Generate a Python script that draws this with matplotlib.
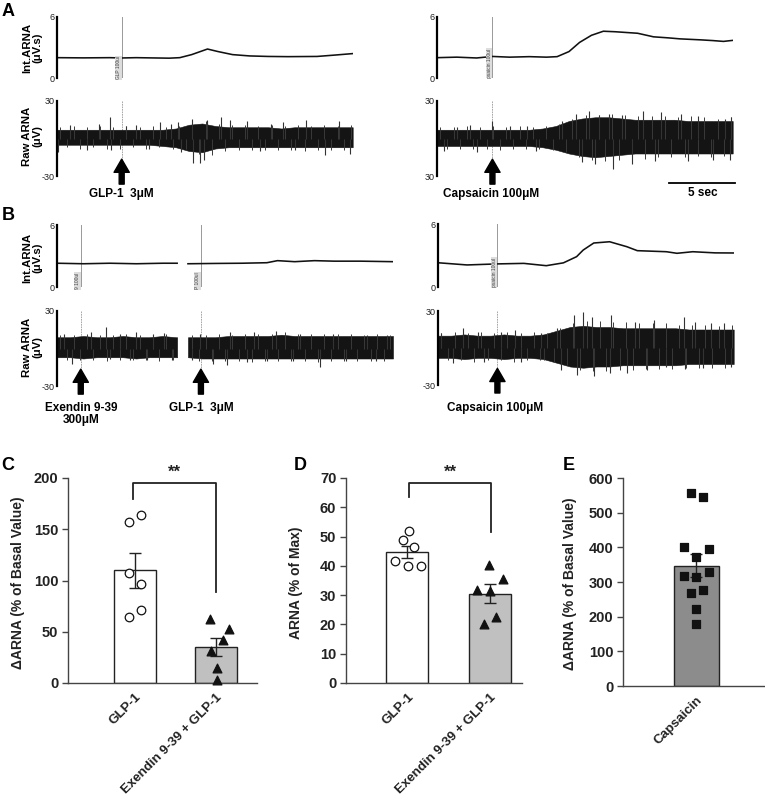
import numpy as np
import matplotlib
matplotlib.use('Agg')
import matplotlib.pyplot as plt

W, H = 765, 797
plt.rcParams['font.family'] = ['Liberation Sans', 'DejaVu Sans']

# ---------------- data ----------------
# panel A left: GLP-1 3uM (time in s)
a1_int_t = [0, 2, 4, 4.9, 6, 7.5, 8.5, 9.3, 10.2, 11.4, 12.2, 13.3, 14.6, 16, 17.5, 19.7, 21, 22.4]
a1_int_v = [2.0, 1.98, 2.0, 1.97, 2.0, 1.97, 1.95, 2.0, 2.3, 2.85, 2.6, 2.3, 2.17, 2.12, 2.1, 2.12, 2.25, 2.4]
a1_raw_t = list(range(23)) + [22.4]
a1_raw_hi = [7, 7, 7, 7, 7, 7, 7, 7, 7, 8, 11, 12, 10, 9, 9, 9, 9, 8, 9, 9, 9, 9, 9, 9]
a1_raw_lo = [-5, -5, -5, -5, -5, -5, -5, -5, -6, -7, -10, -11, -8, -7, -7, -7, -7, -7, -7, -7, -7, -7, -7, -7]
a1_spike_t = [0.1, 1.0, 2.3, 3.2, 4.0, 4.1, 5.2, 6.0, 7.0, 7.8, 8.6, 9.2, 9.4, 10.2, 10.3, 10.8,
              11.1, 11.4, 12.4, 13.1, 14.4, 15.4, 16.2, 17.1, 18.0, 18.9, 20.3, 21.4, 22.2]
a1_spike_v = [-10.5, 11, -9, 12, 17, -9, 10, 11, -8, 13, 12, 13, -11, 16, -19.6, -19.6,
              -17, 15, 17.6, 15, 14, -10, 12, 13, -9, 15, -13, 14, -12]
# small noise tips every 0.5 s (from 0.25 s)
a1_tip_v = [9, -7, 10, -8, 9, -7, 10, -8, 9, -8, 10, -7, 9, -8, 10, -7, 9, -8, 10, -8, 13, -12,
            14, -13, 12, -10, 11, -9, 11, -9, 10, -9, 11, -9, 10, -9, 11, -10, 10, -9, 11, -9,
            10, -9, 11]
a1_mark = 4.9

# panel A right: capsaicin 100uM
a2_int_t = [0, 1.5, 3.0, 4.2, 5.5, 7, 8.3, 9.1, 10.0, 10.8, 11.7, 12.6, 13.5, 15.2, 16.4, 17.5,
            18.4, 20.0, 20.9, 21.7, 22.4]
a2_int_v = [2.0, 2.05, 1.97, 2.12, 2.05, 2.1, 2.05, 2.1, 2.6, 3.5, 4.2, 4.6, 4.55, 4.4, 4.05, 3.95,
            3.85, 3.75, 3.68, 3.6, 3.7]
a2_raw_t = list(range(23)) + [22.4]
a2_raw_hi = [7, 7, 7, 7, 7, 7, 7, 7, 8, 10, 14, 16, 17, 17, 16, 15, 15, 15, 15, 14, 14, 14, 14, 14]
a2_raw_lo = [-6, -6, -6, -6, -6, -6, -6, -6, -7, -9, -12, -14, -15, -14, -13, -12, -12, -12, -12,
             -12, -12, -12, -12, -12]
a2_spike_t = [0.5, 1.5, 2.5, 3.0, 4.2, 5.5, 6.8, 7.5, 9.5, 10.5, 11.0, 11.5, 12.0, 12.3, 13.0, 13.3,
              14.0, 14.8, 15.6, 16.5, 17.0, 18.5, 19.0, 19.8, 20.9, 21.8, 22.2, 22.3]
a2_spike_v = [-10, 9, 11, -11, 14, 10, 10, -10, 14, 20, -19, 22, -20, 19, 20, -24,
              19, -20, 22, -18, 21, 20, -18, 18, -17, 16, -17, 17]
a2_tip_v = [9, -8, 9, -8, 10, -8, 9, -8, 10, -9, 9, -8, 10, -8, 9, -8, 10, -9, 12, -11, 16, -15,
            19, -17, 19, -18, 20, -17, 19, -17, 18, -16, 18, -15, 18, -15, 17, -15, 18, -14, 17,
            -15, 16, -14, 17]
a2_mark = 4.2

# panel B left: exendin 9-39 then GLP-1 (two segments)
b1_int_t1 = [0, 2, 4, 6, 8, 9.1]
b1_int_v1 = [2.3, 2.25, 2.3, 2.25, 2.3, 2.3]
b1_int_t2 = [9.92, 12, 14, 15.9, 16.7, 18, 19.5, 21, 23, 25.45]
b1_int_v2 = [2.25, 2.28, 2.3, 2.35, 2.55, 2.45, 2.55, 2.5, 2.5, 2.45]
b1_raw_t1 = list(range(10)) + [9.1]
b1_raw_hi1 = [9, 9, 10, 9, 9, 10, 9, 9, 10, 9, 9]
b1_raw_lo1 = [-7, -7, -8, -7, -7, -7, -8, -7, -7, -7, -7]
b1_raw_t2 = [9.92] + list(range(11, 26)) + [25.45]
b1_raw_hi2 = [9, 9, 9, 10, 10, 10, 10, 11, 10, 10, 10, 10, 10, 10, 10, 10, 10]
b1_raw_lo2 = [-7, -8, -8, -8, -8, -8, -8, -8, -8, -8, -8, -8, -8, -8, -8, -8, -8]
b1_spike_t = [0.5, 1.1, 2.6, 3.7, 4.0, 4.8, 5.5, 6.0, 6.8, 7.3, 8.1, 8.7,
              10.2, 10.8, 11.8, 12.9, 13.1, 14.4, 14.9, 15.9, 16.6, 17.9, 18.4, 19.9,
              20.9, 21.9, 23.5, 24.2, 25.0]
b1_spike_v = [12, -12, 13.5, 17, -8, 12, -9, 13, -9, 12, 12.5, -9,
              -9, 12, -12, -13, 13, -11, 13.5, -10, 14, -10, 12, -14.5,
              12, -10, 11, -10, 11]
b1_tip_v1 = [11, -9, 11, -9, 12, -9, 11, -10, 11, -9, 12, -9, 11, -9, 11, -10, 12, -9]
b1_tip_v2 = [11, -10, 11, -10, 12, -10, 11, -10, 12, -11, 12, -10, 12, -10, 13, -10, 12, -10,
             12, -11, 12, -10, 12, -10, 12, -10, 11, -10, 12, -10, 11]
b1_marks = [1.8, 10.9]

# panel B right: capsaicin 100uM
b2_int_t = [0, 2.2, 4.5, 6.5, 8.2, 9.5, 10.5, 11.0, 11.8, 13.0, 14.3, 15.1, 17.3, 18.1, 19.3, 21, 22.4]
b2_int_v = [2.31, 2.1, 2.2, 2.25, 2.03, 2.3, 2.89, 3.52, 4.19, 4.31, 3.84, 3.46, 3.36, 3.21, 3.36,
            3.25, 3.24]
b2_raw_t = list(range(23)) + [22.4]
b2_raw_hi = [10, 10, 11, 10, 10, 11, 10, 10, 11, 14, 17, 18, 17, 17, 16, 16, 16, 16, 16, 15, 15,
             15, 15, 15]
b2_raw_lo = [-8, -8, -9, -8, -8, -9, -8, -8, -9, -12, -15, -16, -15, -15, -14, -14, -14, -14, -14,
             -13, -13, -13, -13, -13]
b2_spike_t = [0.2, 1.1, 1.9, 3.0, 3.5, 4.8, 5.8, 6.3, 7.8, 8.0, 9.0, 9.3, 10.3, 10.5, 11.0, 11.7,
              11.8, 13.0, 13.1, 14.3, 14.9, 15.8, 16.4, 17.3, 18.6, 18.7, 19.5, 20.1, 20.7, 21.7, 22.2]
b2_spike_v = [12, -12.4, 16, 13, -11, 13, 15, -11, 12, -10, 16, -17.8, 26.8, -21.9, 29.5, 25,
              -23, -20, 26.8, -20.5, 21, -18, 22.7, -15, 25, -17, 21, -16, 20, 20, -15]
b2_tip_v = [12, -10, 13, -10, 12, -11, 13, -10, 12, -10, 13, -11, 12, -10, 13, -10, 12, -11,
            16, -14, 20, -18, 22, -19, 22, -19, 21, -18, 21, -18, 20, -17, 20, -17, 20, -17,
            19, -16, 19, -16, 19, -16, 18, -16, 19]
b2_mark = 4.5

# panel C
c_groups = ['GLP-1', 'Exendin 9-39 + GLP-1']
c_glp = [157, 164, 107, 97, 71, 64]
c_ex = [62, 53, 42, 31, 15, 3]
c_mean = [110, 35]
c_sem = [17, 9]
# panel D
d_groups = ['GLP-1', 'Exendin 9-39 + GLP-1']
d_glp = [51.9, 48.8, 46.4, 41.7, 40.0, 40.0]
d_ex = [40.3, 35.5, 31.8, 31.4, 22.5, 20.1]
d_mean = [44.8, 30.5]
d_sem = [2.0, 3.2]
# panel E
e_groups = ['Capsaicin']
e_cap = [557, 545, 401, 395, 372, 329, 317, 314, 277, 268, 222, 179]
e_mean = [347]
e_sem = [34]

# horizontal scatter of the dots (layout only)
c_glp_dx = [-0.08, 0.07, -0.08, 0.07, 0.07, -0.08]
c_ex_dx = [-0.07, 0.16, 0.09, -0.06, 0.01, 0.01]
d_glp_dx = [0.02, -0.055, 0.08, -0.15, 0.005, 0.165]
d_ex_dx = [-0.01, 0.16, -0.16, 0.0, 0.07, -0.07]
e_cap_dx = [-0.07, 0.08, -0.155, 0.155, 0.0, 0.155, -0.155, 0.0, 0.08, -0.07, 0.0, 0.0]

fig = plt.figure(figsize=(W / 100, H / 100), dpi=100)


def px_axes(x0, y0, x1, y1):
    return fig.add_axes([x0 / W, 1 - y1 / H, (x1 - x0) / W, (y1 - y0) / H])


def style_trace(ax, lo, hi, labels, tmax):
    for s in ['top', 'right', 'bottom']:
        ax.spines[s].set_visible(False)
    ax.spines['left'].set_linewidth(1.6)
    ax.set_xlim(0, tmax)
    ax.set_ylim(lo, hi)
    ax.set_yticks([lo, hi])
    ax.set_yticklabels(labels)
    ax.tick_params(axis='y', length=0, pad=2, labelsize=6.5, labelcolor='#222')
    ax.set_xticks([])
    ax.patch.set_alpha(0)


def int_trace(ax, segs, marks, tags, tmax, tag_y):
    style_trace(ax, 0, 6, ['0', '6'], tmax)
    for t, v in segs:
        ax.plot(t, v, color='#111', lw=1.15)
    for m, tag in zip(marks, tags):
        ax.plot([m, m], [0, 6], color='#999', lw=0.7, zorder=0)
        ax.text(m - 0.25, tag_y, tag, rotation=90, fontsize=3.5, color='#444',
                ha='center', va='center',
                bbox=dict(boxstyle='square,pad=0.15', fc='#ddd', ec='none'))


def raw_trace(ax, segs, sp_t, sp_v, tips, marks, tmax, bottom_label='-30'):
    style_trace(ax, -30, 30, [bottom_label, '30'], tmax)
    for t, hi, lo in segs:
        ax.fill_between(t, lo, hi, color='#141414', lw=0.4)
    for t0, vals in tips:
        tt = t0 + 0.5 * np.arange(len(vals))
        ax.vlines(tt, 0, vals, color='#3a3a3a', lw=0.7)
    ax.vlines(sp_t, 0, sp_v, color='#333', lw=0.8)
    for m in marks:
        ax.plot([m, m], [30, -17], color='#999', lw=0.6, ls=(0, (2, 1)), zorder=0)
        ax.annotate('', xy=(m, -16.5), xytext=(m, -36.5), annotation_clip=False,
                    arrowprops=dict(arrowstyle='simple,head_width=1.1,head_length=0.95,tail_width=0.36',
                                    mutation_scale=10, fc='k', ec='k', shrinkA=0, shrinkB=0))


ylab_kw = dict(fontsize=8.2, fontweight='bold', rotation=90, ha='center', va='center',
               linespacing=1.05)
lab_kw = dict(fontsize=8.5, fontweight='bold', ha='center', va='center')

# ---------------- panel A ----------------
ax = px_axes(57, 17, 352.7, 78)
int_trace(ax, [(a1_int_t, a1_int_v)], [a1_mark], ['GLP 100ul'], 22.4, 1.0)
ax = px_axes(57, 101, 352.7, 176)
raw_trace(ax, [(a1_raw_t, a1_raw_hi, a1_raw_lo)], a1_spike_t, a1_spike_v, [(0.25, a1_tip_v)],
          [a1_mark], 22.4)
ax.text(a1_mark, -44, 'GLP-1  3\u03bcM', **lab_kw)

ax = px_axes(437, 17, 732.7, 78)
int_trace(ax, [(a2_int_t, a2_int_v)], [a2_mark], ['psaicin 100ul'], 22.4, 1.45)
ax = px_axes(437, 101, 732.7, 176)
raw_trace(ax, [(a2_raw_t, a2_raw_hi, a2_raw_lo)], a2_spike_t, a2_spike_v, [(0.25, a2_tip_v)],
          [a2_mark], 22.4, bottom_label='30')
ax.text(4.1, -44, 'Capsaicin 100\u03bcM', **lab_kw)
ax.plot([17.6, 22.6], [-35.6, -35.6], color='k', lw=1.3, clip_on=False)
ax.text(20.1, -44, '5 sec', **lab_kw)

fig.text(32 / W, 1 - 48 / H, 'Int.ARNA\n(\u03bcV.s)', **ylab_kw)
fig.text(32 / W, 1 - 136 / H, 'Raw ARNA\n(\u03bcV)', **ylab_kw)

# ---------------- panel B ----------------
ax = px_axes(57, 225, 393, 287)
int_trace(ax, [(b1_int_t1, b1_int_v1), (b1_int_t2, b1_int_v2)], b1_marks,
          ['9 100ul', 'P 100ul'], 25.45, 0.6)
ax = px_axes(57, 311, 393, 386)
raw_trace(ax, [(b1_raw_t1, b1_raw_hi1, b1_raw_lo1), (b1_raw_t2, b1_raw_hi2, b1_raw_lo2)],
          b1_spike_t, b1_spike_v, [(0.25, b1_tip_v1), (10.25, b1_tip_v2)], b1_marks, 25.45)
ax.text(b1_marks[0], -47.6, 'Exendin 9-39', **lab_kw)
ax.text(b1_marks[0], -57.6, '300\u03bcM', **lab_kw)
ax.text(b1_marks[1], -47.6, 'GLP-1  3\u03bcM', **lab_kw)

ax = px_axes(438, 224, 733.7, 287)
int_trace(ax, [(b2_int_t, b2_int_v)], [b2_mark], ['psaicin 100ul'], 22.4, 1.4)
ax = px_axes(438, 311, 733.7, 385)
raw_trace(ax, [(b2_raw_t, b2_raw_hi, b2_raw_lo)], b2_spike_t, b2_spike_v, [(0.25, b2_tip_v)],
          [b2_mark], 22.4)
ax.text(4.3, -48.5, 'Capsaicin 100\u03bcM', **lab_kw)

fig.text(32 / W, 1 - 258 / H, 'Int.ARNA\n(\u03bcV.s)', **ylab_kw)
fig.text(32 / W, 1 - 347 / H, 'Raw ARNA\n(\u03bcV)', **ylab_kw)

# ---------------- bar panels ----------------


def bar_panel(ax, groups, means, sems, colors, width, xlim, ylim, yticks, ylabel, lab_x):
    x = np.arange(len(groups))
    ax.bar(x, means, width=width, color=colors, edgecolor='#222', lw=1.0, zorder=1)
    ax.errorbar(x, means, yerr=sems, fmt='none', ecolor='#222', elinewidth=1.0,
                capsize=4, capthick=1.0, zorder=2)
    ax.set_xlim(*xlim)
    ax.set_ylim(*ylim)
    ax.set_yticks(yticks)
    ax.set_xticks(x)
    ax.set_xticklabels(groups, rotation=45, ha='right', rotation_mode='anchor')
    for s in ['top', 'right']:
        ax.spines[s].set_visible(False)
    for s in ['left', 'bottom']:
        ax.spines[s].set_linewidth(1.0)
        ax.spines[s].set_color('#444')
    ax.tick_params(axis='y', direction='out', length=4, width=1, color='#444', pad=3)
    ax.tick_params(axis='x', length=0, pad=6)
    for lab in ax.get_yticklabels():
        lab.set_fontweight('bold')
        lab.set_fontsize(10.5)
        lab.set_color('#222')
    for lab in ax.get_xticklabels():
        lab.set_fontweight('bold')
        lab.set_fontsize(9.5)
        lab.set_color('#222')
    ax.set_ylabel(ylabel, fontsize=10, fontweight='bold', color='#222')
    ax.yaxis.set_label_coords(lab_x, 0.49)
    ax.patch.set_alpha(0)


def dots(ax, xc, vals, dx, marker, face, size):
    ax.scatter([xc + d for d in dx], vals, marker=marker, s=size, facecolor=face,
               edgecolor='#111', lw=0.9, zorder=3, clip_on=False)


def bracket(ax, x0, x1, y0, ytop, y1, star_y):
    ax.plot([x0, x0, x1, x1], [y0, ytop, ytop, y1], color='#222', lw=1.3, clip_on=False)
    ax.text((x0 + x1) / 2, star_y, '**', ha='center', va='center', fontsize=12,
            fontweight='bold', color='#222')


ax = px_axes(68, 478, 257, 683)
bar_panel(ax, c_groups, c_mean, c_sem, ['white', '#c0c0c0'], 0.52, (-0.83, 1.51), (0, 200),
          [0, 50, 100, 150, 200], '\u0394ARNA (% of Basal Value)', -0.228)
dots(ax, 0, c_glp, c_glp_dx, 'o', 'white', 38)
dots(ax, 1, c_ex, c_ex_dx, '^', '#111', 40)
bracket(ax, -0.02, 1.0, 180, 195, 89, 206)

ax = px_axes(346, 478, 522, 683)
bar_panel(ax, d_groups, d_mean, d_sem, ['white', '#c0c0c0'], 0.51, (-0.745, 1.39), (0, 70),
          [0, 10, 20, 30, 40, 50, 60, 70], 'ARNA (% of Max)', -0.244)
dots(ax, 0, d_glp, d_glp_dx, 'o', 'white', 38)
dots(ax, 1, d_ex, d_ex_dx, '^', '#111', 40)
bracket(ax, 0.02, 1.02, 63.5, 68.3, 51.6, 72)

ax = px_axes(623, 478, 765, 686)
bar_panel(ax, e_groups, e_mean, e_sem, ['#8c8c8c'], 0.556, (-0.907, 0.846), (0, 600),
          [0, 100, 200, 300, 400, 500, 600], '\u0394ARNA (% of Basal Value)', -0.324)
dots(ax, 0, e_cap, e_cap_dx, 's', '#111', 34)

# panel letters
for letter, x, y in [('A', 8, 12), ('B', 8, 216), ('C', 8, 465), ('D', 300, 465), ('E', 569, 465)]:
    fig.text(x / W, 1 - y / H, letter, fontsize=13, fontweight='bold', ha='center', va='center')

fig.savefig('out.png', dpi=100)
